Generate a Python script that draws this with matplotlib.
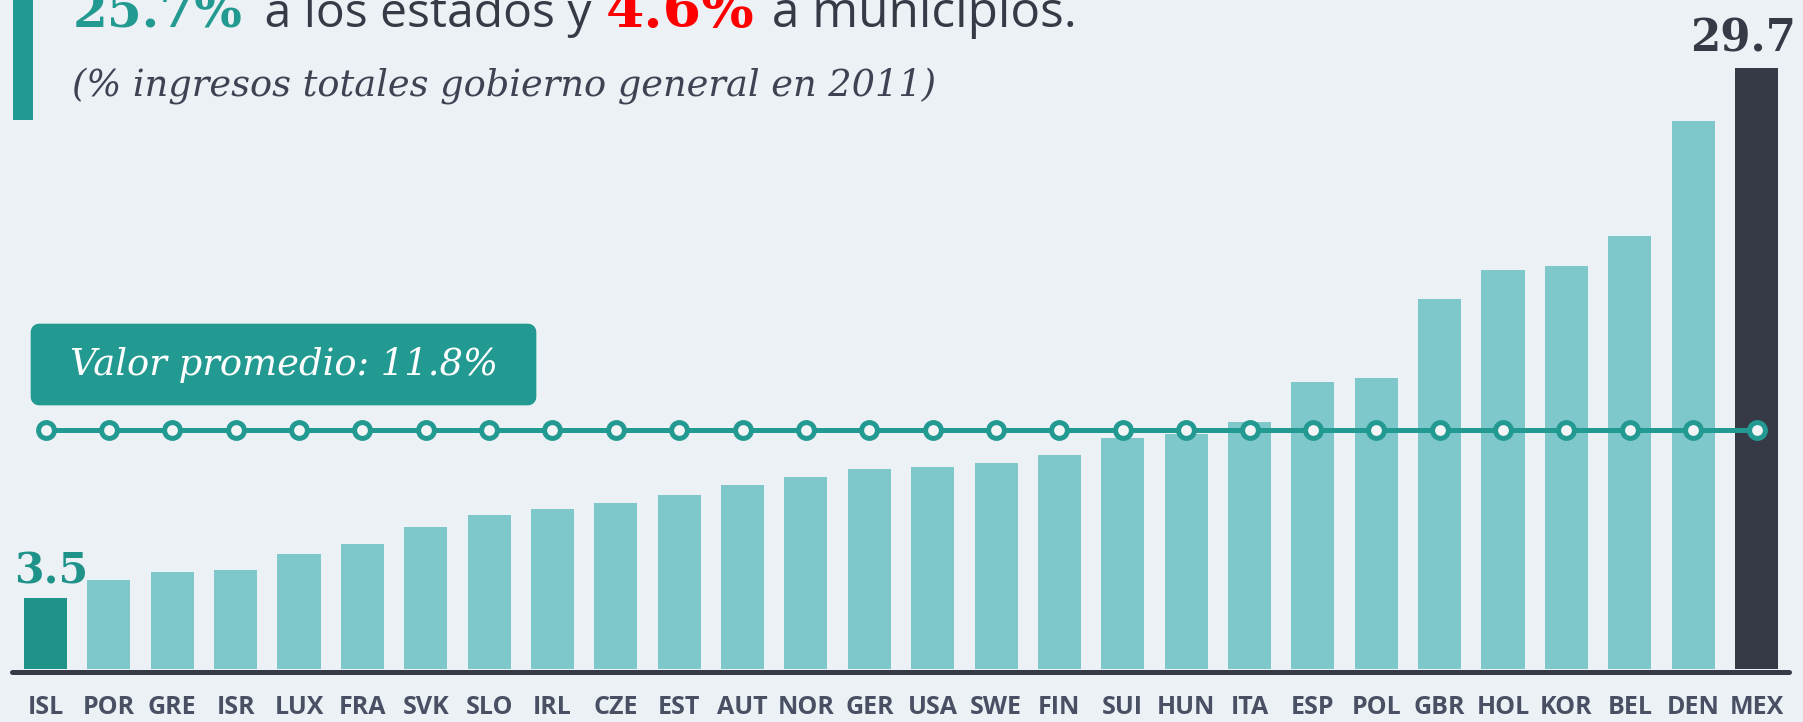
import matplotlib.pyplot as plt
from matplotlib.patches import FancyBboxPatch, Rectangle

# data
countries = ['ISL', 'POR', 'GRE', 'ISR', 'LUX', 'FRA', 'SVK', 'SLO', 'IRL', 'CZE',
             'EST', 'AUT', 'NOR', 'GER', 'USA', 'SWE', 'FIN', 'SUI', 'HUN', 'ITA',
             'ESP', 'POL', 'GBR', 'HOL', 'KOR', 'BEL', 'DEN', 'MEX']
values = [3.5, 4.4, 4.8, 4.9, 5.7, 6.2, 7.0, 7.6, 7.9, 8.2,
          8.6, 9.1, 9.5, 9.9, 10.0, 10.2, 10.6, 11.4, 11.6, 12.2,
          14.2, 14.4, 18.3, 19.7, 19.9, 21.4, 27.1, 29.7]
promedio = 11.8

title_parts = [('25.7%', 'num_teal'), (' a los estados y ', 'sans'),
               ('4.6%', 'num_red'), (' a municipios.', 'sans')]
subtitle = '(% ingresos totales gobierno general en 2011)'
box_label = 'Valor promedio: 11.8%'

BG = '#ECF1F5'
LIGHT = '#7EC7CA'
TEAL = '#1F9389'
LINE = '#239A91'
DARK = '#363A46'
LABEL = '#4A5064'

W, H = 1803, 722
fig = plt.figure(figsize=(W / 100, H / 100), dpi=100, facecolor=BG)
ax = fig.add_axes([0, 0, 1, 1])
ax.set_facecolor(BG)
ax.axis('off')

# map data to the reference pixel grid
step = (1756.5 - 45.5) / 27
ppu = 601 / 29.7
base_px = 669
ax.set_xlim(-45.5 / step, 27 + (W - 1756.5) / step)
ax.set_ylim(-(H - base_px) / ppu, base_px / ppu)


def py(y):
    # pixel row (from top) -> data y
    return (base_px - y) / ppu


def fpos(x, y):
    return x / W, 1 - y / H


renderer = fig.canvas.get_renderer()


def fit(t, width):
    fs = t.get_fontsize()
    w = t.get_window_extent(renderer).width
    t.set_fontsize(fs * width / w)


x = list(range(len(countries)))
colors = [LIGHT] * len(countries)
colors[0] = TEAL
colors[-1] = DARK
ax.bar(x, values, width=0.68, color=colors, zorder=2)

# base line
ax.plot([(12 - 45.5) / step, (1789 - 45.5) / step], [py(671.5), py(671.5)],
        color=DARK, lw=3.6, solid_capstyle='round', zorder=1)

# average line
ax.plot(x, [promedio] * len(x), color=LINE, lw=3.6, marker='o', ms=11.4,
        mew=3.6, mfc='#F2F4F5', mec=LINE, zorder=3)

for i, c in enumerate(countries):
    ax.text(i, py(714), c, ha='center', va='baseline', fontsize=18,
            fontfamily='Open Sans', fontweight='bold', color=LABEL)

# end labels
t = ax.text(0, py(583), f'{values[0]:.1f}', ha='center', va='baseline',
            fontsize=30, fontfamily='DejaVu Serif', fontweight='bold', color=TEAL)
fit(t, 74)
t.set_x((51 - 45.5) / step)
t = ax.text(len(x) - 1, py(51), f'{values[-1]:.1f}', ha='center', va='baseline',
            fontsize=30, fontfamily='DejaVu Serif', fontweight='bold', color=DARK)
fit(t, 106)
t.set_x((1743 - 45.5) / step)

# average box
bx0, by0, bx1, by1 = 33, 326, 534, 403
fig.patches.append(FancyBboxPatch(fpos(bx0 + 6, by1 - 6),
                                  (bx1 - bx0 - 12) / W, (by1 - by0 - 12) / H,
                                  boxstyle='round,pad=0.0,rounding_size=0.0',
                                  transform=fig.transFigure, fc=LINE, ec=LINE,
                                  lw=12, joinstyle='round', zorder=4))
t = fig.text(*fpos((bx0 + bx1) / 2, 375), box_label, ha='center', va='baseline',
             fontsize=26, fontfamily='DejaVu Serif', fontstyle='italic',
             color='white', zorder=5)
fit(t, 428)

# left accent bar
fig.patches.append(Rectangle(fpos(13, 120), 20 / W, 120 / H,
                             transform=fig.transFigure, fc=LINE, ec='none'))

# title (top is cut in the reference)
styles = {
    'num_teal': dict(fontfamily='DejaVu Serif', fontweight='bold', color=LINE),
    'num_red': dict(fontfamily='DejaVu Serif', fontweight='bold', color='#FF0000'),
    'sans': dict(fontfamily='Open Sans', color=DARK),
}
lefts = [73, 252, 606, 759]
widths = [170, 351, 149, 318]
for (txt, st), lx, wd in zip(title_parts, lefts, widths):
    t = fig.text(*fpos(lx, 27), txt, ha='left', va='baseline', fontsize=32,
                 **styles[st])
    fit(t, wd)

t = fig.text(*fpos(72, 95), subtitle, ha='left', va='baseline', fontsize=24,
             fontfamily='DejaVu Serif', fontstyle='italic', color='#3E4252')
fit(t, 865)

fig.savefig('out.png', dpi=100, facecolor=BG)
